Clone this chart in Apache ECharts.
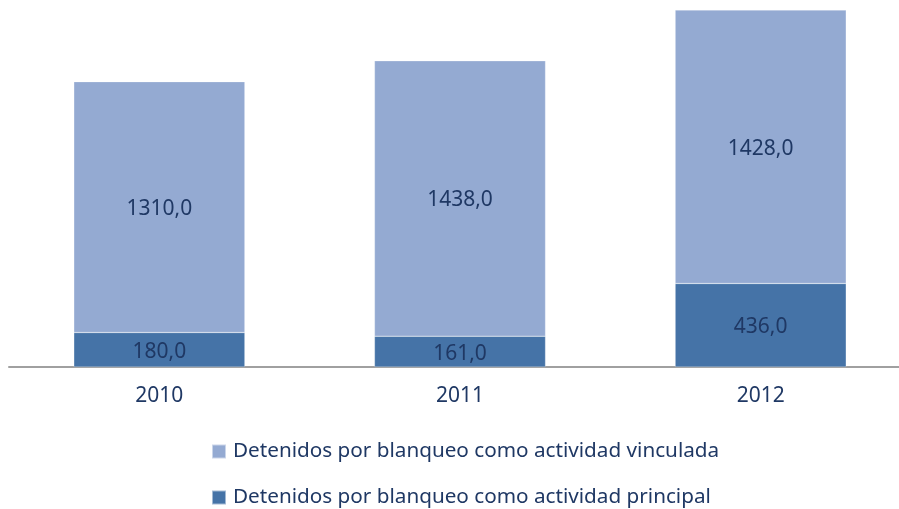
<!DOCTYPE html>
<html>
<head>
<meta charset="utf-8">
<script src="https://cdn.jsdelivr.net/npm/echarts@6/dist/echarts.min.js"></script>
<style>
    html, body { margin: 0; padding: 0; background: #fff; overflow: hidden; }
    #chart { width: 911px; height: 509px; }
</style>
</head>
<body>
<div id="chart"></div>
<script>
const years = ['2010', '2011', '2012'];
const principal = [180.0, 161.0, 436.0];
const vinculada = [1310.0, 1438.0, 1428.0];
const nameVinculada = 'Detenidos por blanqueo como actividad vinculada';
const namePrincipal = 'Detenidos por blanqueo como actividad principal';

const textColor = '#1F3864';
const fontFamily = '"Noto Sans", sans-serif';

const chart = echarts.init(document.getElementById('chart'));

const labelStyle = {
    show: true,
    position: 'inside',
    offset: [0, 2],
    color: textColor,
    fontSize: 21,
    fontFamily: fontFamily,
    formatter: (p) => p.value.toFixed(1).replace('.', ','),
};

// one legend per row, the reference stacks them
function legendRow(name, top) {
    return {
        orient: 'horizontal',
        left: 206,
        top: top,
        itemWidth: 14,
        itemHeight: 14,
        icon: 'rect',
        data: [name],
        textStyle: { color: textColor, fontSize: 20.7, fontFamily: fontFamily, padding: [0, 0, 0, 2] },
    };
}

const option = {
    animation: false,
    grid: { left: 9, right: 0, top: 10, bottom: 142 },
    legend: [legendRow(nameVinculada, 436), legendRow(namePrincipal, 482)],
    xAxis: {
        type: 'category',
        data: years,
        axisLine: { lineStyle: { color: '#A0A0A0', width: 2 } },
        axisTick: { show: false },
        axisLabel: { color: textColor, fontSize: 21, fontFamily: fontFamily, margin: 19 },
    },
    yAxis: {
        type: 'value',
        min: 0,
        max: 1864,
        show: false,
    },
    series: [
        {
            name: namePrincipal,
            type: 'bar',
            stack: 'total',
            barWidth: '56.9%',
            data: principal,
            itemStyle: { color: '#4573A7', borderColor: 'rgba(255,255,255,0.5)', borderWidth: 0.5 },
            label: labelStyle,
        },
        {
            name: nameVinculada,
            type: 'bar',
            stack: 'total',
            data: vinculada,
            itemStyle: { color: '#94AAD2', borderColor: 'rgba(255,255,255,0.5)', borderWidth: 0.5 },
            label: labelStyle,
        },
    ],
};

chart.setOption(option);
</script>
</body>
</html>
